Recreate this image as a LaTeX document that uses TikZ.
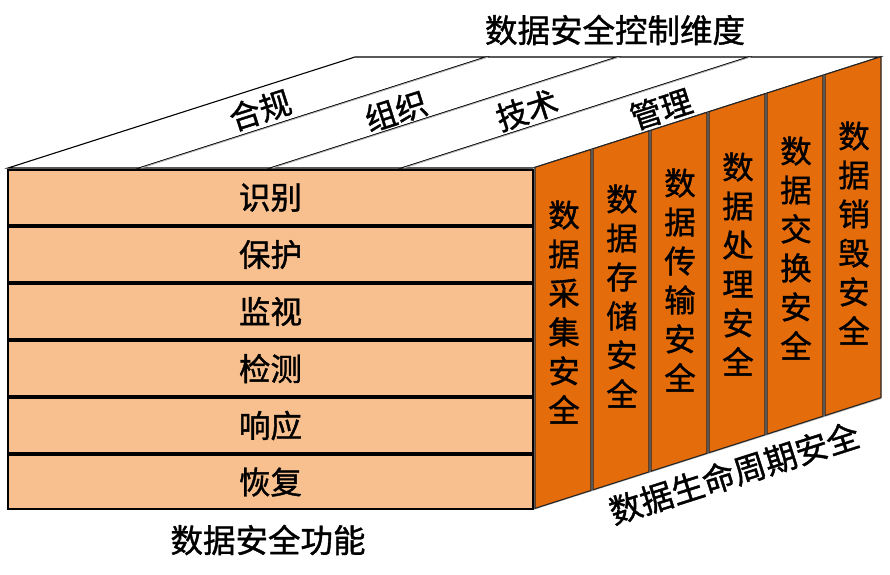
\documentclass[tikz,border=0pt]{standalone}
\usepackage{fontspec}
\newfontfamily\cjk[RawFeature={embolden=1.2}]{Noto Sans CJK SC}
\definecolor{frontfill}{HTML}{F9C08F}
\definecolor{sidefill}{HTML}{E46C0A}
\tikzset{
  rowbox/.style={draw=black, line width=1.3pt, fill=frontfill},
  colbox/.style={draw=black!85, line width=1.1pt, fill=sidefill},
  topstrip/.style={draw=black, line width=1.1pt, fill=white},
  lbl/.style={font=\cjk\fontsize{31.5}{36}\selectfont, inner sep=0pt},
  vlbl/.style={font=\cjk\fontsize{31.5}{39}\selectfont, align=center, inner sep=0pt},
  title/.style={font=\cjk\fontsize{32.5}{36}\selectfont, inner sep=0pt}
}
\begin{document}
\begin{tikzpicture}[x=1pt, y=-1pt]
\useasboundingbox (0,0) rectangle (890,574);
% top face strips
\foreach \k in {0,1,2,3}{
  \pgfmathsetmacro{\xa}{8+131.25*\k}
  \pgfmathsetmacro{\xb}{8+131.25*(\k+1)}
  \draw[topstrip] (\xa,168) -- (\xa+347,57) -- (\xb+347,57) -- (\xb,168) -- cycle;
}
\foreach \k in {1,2,3}{
  \pgfmathsetmacro{\xa}{8+131.25*\k}
  \draw[gray!60, line width=0.9pt] (\xa+2,168) -- (\xa+349,57);
}
% right face background
\fill[gray!55] (533,168) -- (881,57) -- (881,399) -- (533,510) -- cycle;
% right face columns
\foreach \k in {0,...,5}{
  \pgfmathsetmacro{\xa}{535+58*\k}
  \pgfmathsetmacro{\xb}{\xa+56}
  \pgfmathsetmacro{\ya}{168-0.32*(\xa-533)}
  \pgfmathsetmacro{\yb}{168-0.32*(\xb-533)}
  \draw[colbox] (\xa,\ya) -- (\xb,\yb) -- (\xb,\yb+341) -- (\xa,\ya+341) -- cycle;
}
% front face rows
\foreach \t/\b in {170/225, 227/282, 284/339, 341/396, 398/453, 455/509}{
  \draw[rowbox] (8,\t) rectangle (533,\b);
}
% front labels
\node[lbl] (f1) at (270.5,197.5) {识别};
\node[lbl] (f2) at (270.5,254.5) {保护};
\node[lbl] (f3) at (270.5,311.5) {监视};
\node[lbl] (f4) at (270.5,368.5) {检测};
\node[lbl] (f5) at (270.5,425.5) {响应};
\node[lbl] (f6) at (270.5,482) {恢复};
% top labels
\node[lbl, rotate=17.7] (t1) at (260,110) {合规};
\node[lbl, rotate=17.7] (t2) at (396,111) {组织};
\node[lbl, rotate=17.7] (t3) at (527,110) {技术};
\node[lbl, rotate=17.7] (t4) at (661,109) {管理};
% column labels
\node[vlbl] (c1) at (564,312) {数\\据\\采\\集\\安\\全};
\node[vlbl] (c2) at (622,296) {数\\据\\存\\储\\安\\全};
\node[vlbl] (c3) at (680,280) {数\\据\\传\\输\\安\\全};
\node[vlbl] (c4) at (738,264) {数\\据\\处\\理\\安\\全};
\node[vlbl] (c5) at (796,248) {数\\据\\交\\换\\安\\全};
\node[vlbl] (c6) at (854,233) {数\\据\\销\\毁\\安\\全};
% titles
\node[title] (top) at (615,30) {数据安全控制维度};
\node[title] (bottom) at (268,540) {数据安全功能};
\node[title, rotate=17.7] (side) at (734,473) {数据生命周期安全};
\end{tikzpicture}
\end{document}
